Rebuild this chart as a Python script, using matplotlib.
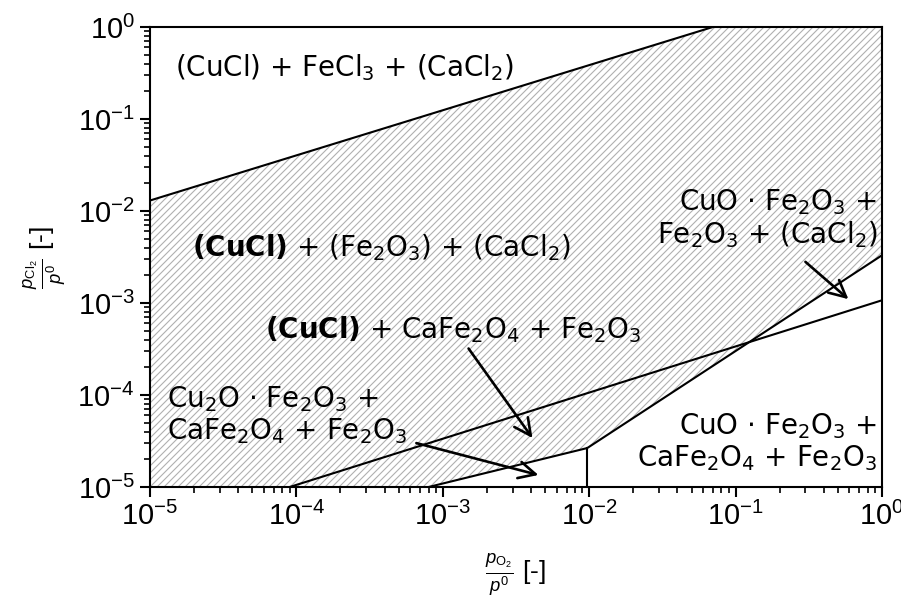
import numpy as np
import matplotlib
matplotlib.use("Agg")
import matplotlib.pyplot as plt

DPI = 84
S = 100 / DPI  # sizes below are tuned for 100 dpi

plt.rcParams['font.family'] = 'Liberation Sans'
plt.rcParams['mathtext.fontset'] = 'custom'
plt.rcParams['mathtext.rm'] = 'Liberation Sans'
plt.rcParams['mathtext.it'] = 'Liberation Sans:italic'
plt.rcParams['mathtext.bf'] = 'DejaVu Sans:bold'
plt.rcParams['mathtext.default'] = 'regular'
plt.rcParams['hatch.color'] = '#b0b0b0'
plt.rcParams['hatch.linewidth'] = 0.8 * S

# phase boundaries (p_O2/p0, p_Cl2/p0)
upper_x = [1e-5, 0.07]
upper_y = [1.3e-2, 1.0]
mid_x = [9e-5, 1.0]
mid_y = [1e-5, 1.07e-3]
lower_x = [8e-4, 9.7e-3, 1.0]
lower_y = [1e-5, 2.65e-5, 3.3e-3]
vert_x = [9.7e-3, 9.7e-3]
vert_y = [1e-5, 2.65e-5]

# labels: (text, x, y, ha)
labels = [
    (r"(CuCl) + FeCl$_3$ + (CaCl$_2$)", 1.48e-5, 0.36, 'left'),
    (r"$\mathbf{(CuCl)}$ + (Fe$_2$O$_3$) + (CaCl$_2$)", 1.95e-5, 4e-3, 'left'),
    (r"$\mathbf{(CuCl)}$ + CaFe$_2$O$_4$ + Fe$_2$O$_3$", 6.1e-5, 5.1e-4, 'left'),
    ("Cu$_2$O $\\cdot$ Fe$_2$O$_3$ +\nCaFe$_2$O$_4$ + Fe$_2$O$_3$", 1.3e-5, 6e-5, 'left'),
    ("CuO $\\cdot$ Fe$_2$O$_3$ +\nCaFe$_2$O$_4$ + Fe$_2$O$_3$", 0.93, 3.1e-5, 'right'),
    ("CuO $\\cdot$ Fe$_2$O$_3$ +\nFe$_2$O$_3$ + (CaCl$_2$)", 0.93, 8.2e-3, 'right'),
]

# arrows: (tail, head)
arrows = [
    ((0.30, 2.8e-3), (0.59, 1.1e-3)),
    ((1.5e-3, 3.2e-4), (4.1e-3, 3.4e-5)),
    ((6.6e-4, 3.0e-5), (4.5e-3, 1.35e-5)),
]

fig = plt.figure(figsize=(902 / DPI, 601 / DPI), dpi=DPI)
ax = fig.add_axes([0.1663, 0.1897, 0.8115, 0.7654])

# hatched region between lower boundary and upper boundary
poly_x = [1e-5] + lower_x + [1.0, upper_x[1], upper_x[0]]
poly_y = [1e-5] + lower_y + [1.0, upper_y[1], upper_y[0]]
ax.fill(poly_x, poly_y, facecolor='none', edgecolor='#b0b0b0', hatch='////', lw=0)

for xs, ys in [(upper_x, upper_y), (mid_x, mid_y), (lower_x, lower_y), (vert_x, vert_y)]:
    ax.plot(xs, ys, color='black', lw=1.5 * S)

for txt, x, y, ha in labels:
    ax.text(x, y, txt, ha=ha, va='center', fontsize=20 * S, family='DejaVu Sans',
            linespacing=1.08)

for tail, head in arrows:
    ax.annotate('', xy=head, xytext=tail,
                arrowprops=dict(arrowstyle='->', lw=1.9 * S, color='black',
                                mutation_scale=30 * S, shrinkA=0, shrinkB=0))

ax.set_xscale('log')
ax.set_yscale('log')
ax.set_xlim(1e-5, 1)
ax.set_ylim(1e-5, 1)

for s in ax.spines.values():
    s.set_linewidth(1.5 * S)
ax.tick_params(which='major', length=7 * S, width=1.5 * S, labelsize=21 * S, pad=4 * S)
ax.tick_params(which='minor', length=4.5 * S, width=1.2 * S)

ax.set_xlabel(r"$\frac{\mathit{p}_{\mathrm{O_2}}}{\mathit{p}^0}$ [-]", fontsize=19 * S,
              labelpad=14 * S)
ax.set_ylabel(r"$\frac{\mathit{p}_{\mathrm{Cl_2}}}{\mathit{p}^0}$ [-]", fontsize=19 * S,
              labelpad=6 * S)

fig.savefig('out.png', dpi=DPI)
